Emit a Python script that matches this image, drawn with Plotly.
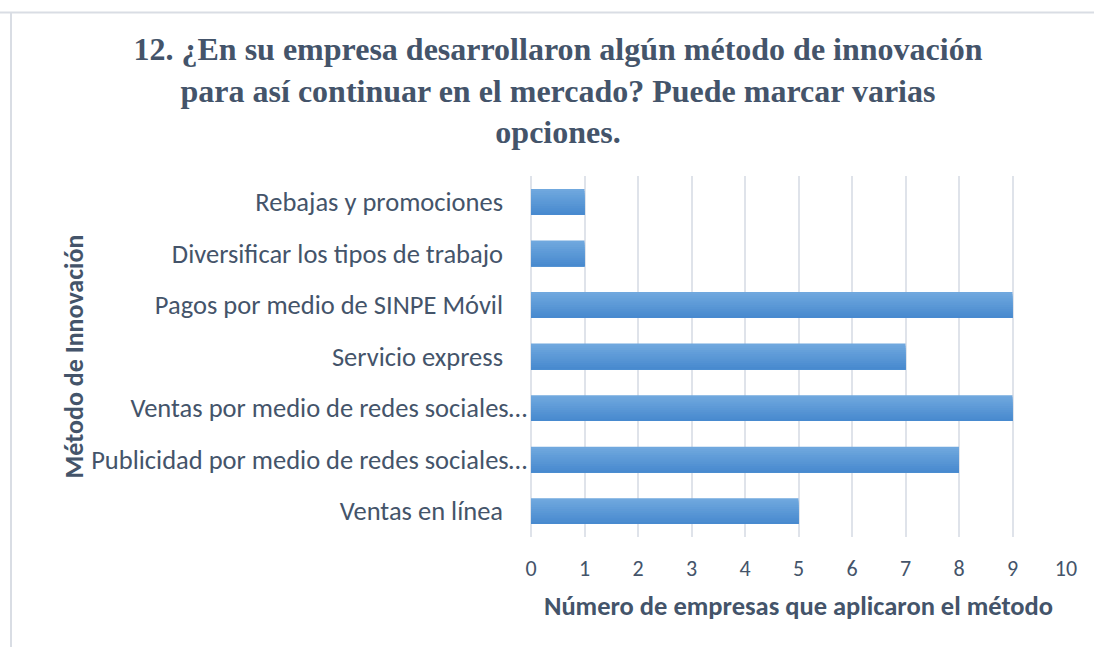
import plotly.graph_objects as go

W, H = 1094, 647

categories = [
    "Rebajas y promociones\u00a0\u00a0\u00a0\u00a0",
    "Diversificar los tipos de trabajo\u00a0\u00a0\u00a0\u00a0",
    "Pagos por medio de SINPE Móvil\u00a0\u00a0\u00a0\u00a0",
    "Servicio express\u00a0\u00a0\u00a0\u00a0",
    "Ventas por medio de redes sociales…",
    "Publicidad por medio de redes sociales…",
    "Ventas en línea\u00a0\u00a0\u00a0\u00a0",
]
values = [1, 1, 9, 7, 9, 8, 5]
x_ticks = list(range(0, 11))

title_text = ("12. ¿En su empresa desarrollaron algún método de innovación<br>"
              "para así continuar en el mercado? Puede marcar varias<br>"
              "opciones.")
x_title = "Número de empresas que aplicaron el método"
y_title = "Método de Innovación"

TXT = "#44546a"
FONT = "Calibri, Carlito, Lato, sans-serif"
GRID = "#dfe3ea"

# vertical gradient for bars (light top -> darker bottom), built from overlapping bands
c_top = (0x70, 0xa8, 0xde)
c_bot = (0x48, 0x8a, 0xcf)
n_bands = 12
bar_w = 0.5

fig = go.Figure()
for i in range(n_bands):
    t = i / (n_bands - 1)
    col = "rgb({},{},{})".format(*[round(a + (b - a) * t) for a, b in zip(c_top, c_bot)])
    off = -bar_w / 2 + i * bar_w / n_bands
    fig.add_trace(go.Bar(
        x=values, y=categories, orientation="h",
        marker=dict(color=col, line=dict(width=0)),
        width=bar_w - i * bar_w / n_bands, offset=off,
        hoverinfo="x+y" if i == 0 else "skip",
    ))

fig.update_layout(
    width=W, height=H,
    margin=dict(l=0, r=0, t=0, b=0, autoexpand=False),
    paper_bgcolor="white", plot_bgcolor="white",
    showlegend=False, barmode="overlay",
    font=dict(family=FONT, color=TXT, size=26),
    title=dict(text=title_text, x=558 / W, xanchor="center",
               y=1 - 60 / H, yanchor="top", yref="container", automargin=False,
               font=dict(family="Times New Roman, Liberation Serif, serif",
                         size=32, color=TXT, weight="bold")),
    xaxis=dict(domain=[531 / W, 1066 / W], range=[0, 10], automargin=False,
               tickvals=x_ticks, showgrid=True, gridcolor=GRID, gridwidth=1.5,
               zeroline=True, zerolinecolor=GRID, zerolinewidth=1.5,
               showline=False, ticks="", ticklabelstandoff=16,
               tickfont=dict(size=22, color=TXT),
               title=dict(text=x_title, standoff=15,
                          font=dict(size=26.5, color=TXT, weight="bold"))),
    yaxis=dict(domain=[1 - 537 / H, 1 - 176 / H], autorange="reversed",
               automargin=False,
               showgrid=False, showline=False, ticks="",
               ticklabelstandoff=3,
               tickfont=dict(size=26.5, color=TXT),
               title=dict(text=y_title, standoff=0,
                          font=dict(size=26, color=TXT, weight="bold"))),
    shapes=[
        dict(type="line", xref="paper", yref="paper", x0=0, x1=1,
             y0=1 - 12.5 / H, y1=1 - 12.5 / H, line=dict(color="#d9dde4", width=2)),
        dict(type="line", xref="paper", yref="paper", x0=11 / W, x1=11 / W,
             y0=0, y1=1 - 12.5 / H, line=dict(color="#d9dde4", width=2)),
    ],
)

fig.write_html("out.html", config={"displayModeBar": False},
               post_script="document.body.style.margin='0';")
